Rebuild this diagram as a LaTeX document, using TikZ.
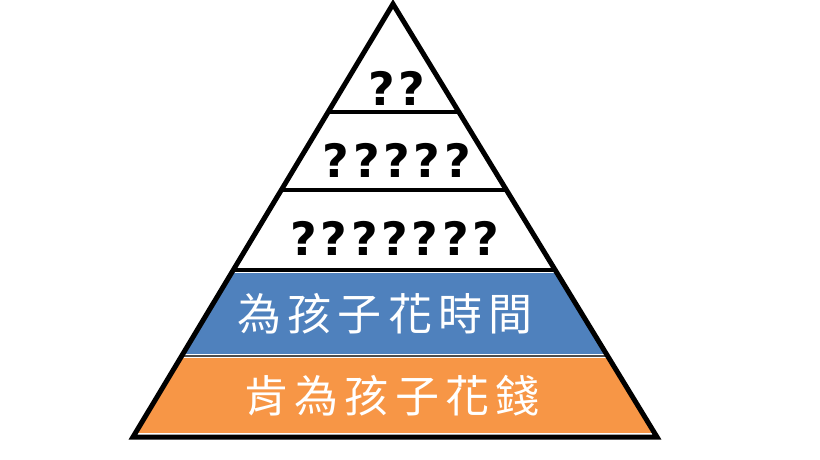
\documentclass[tikz,border=0pt]{standalone}
\usepackage{fontspec}
\newfontfamily\cjk{Noto Sans CJK TC}[LetterSpace=14]
\newfontfamily\qf{DejaVu Sans}[LetterSpace=8]
\definecolor{bl}{RGB}{79,129,189}
\definecolor{og}{RGB}{247,150,70}
\begin{document}
\begin{tikzpicture}[x=1pt,y=-1pt,
  q/.style={font=\qf\bfseries\fontsize{46}{46}\selectfont},
  cj/.style={font=\cjk\fontsize{44}{44}\selectfont,text=white}]
\useasboundingbox (0,0) rectangle (820,460);
\coordinate (A) at (393,4);
\coordinate (L) at (133,437);
\coordinate (R) at (657,437);
\begin{scope}
\clip (A) -- (L) -- (R) -- cycle;
\fill[white] (0,0) rectangle (820,460);
\fill[bl] (0,273) rectangle (820,354);
\fill[og] (0,358) rectangle (820,433);
\draw[line width=4] (0,112) -- (820,112);
\draw[line width=4] (0,190) -- (820,190);
\draw[line width=4] (0,270) -- (820,270);
\draw[line width=1.5,black!70] (0,356) -- (820,356);
\end{scope}
\draw[line width=5,line join=miter] (A) -- (L) -- (R) -- cycle;
\node[q] (t1) at (397,88) {??};
\node[q] (t2) at (397,160) {?????};
\node[q] (t3) at (395,238) {???????};
\node[cj] (t4) at (385,314) {為孩子花時間};
\node[cj] (t5) at (392,396) {肯為孩子花錢};
\end{tikzpicture}
\end{document}
